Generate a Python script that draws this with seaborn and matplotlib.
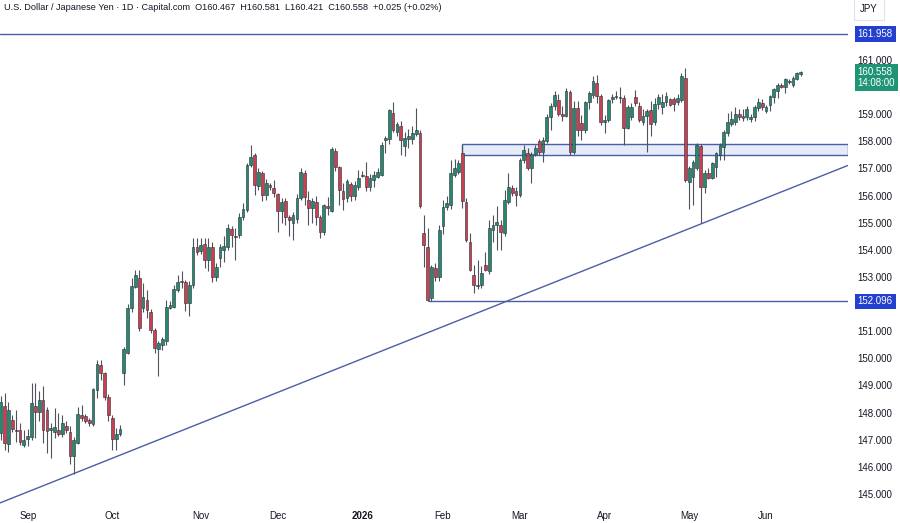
import matplotlib
matplotlib.use('Agg')
import matplotlib.pyplot as plt
import matplotlib.transforms as mtransforms
from matplotlib.patches import Rectangle
import numpy as np
import pandas as pd
import seaborn as sns

# ---- chart text ----
header = ('U.S. Dollar / Japanese Yen \u00b7 1D \u00b7 Capital.com  '
          'O160.467  H160.581  L160.421  C160.558  +0.025 (+0.02%)')
currency = 'JPY'
month_ticks = [7, 29, 52, 72, 94, 115, 135, 157, 179, 199]
month_labels = ['Sep', 'Oct', 'Nov', 'Dec', '2026', 'Feb', 'Mar', 'Apr', 'May', 'Jun']
price_ticks = [145, 146, 147, 148, 149, 150, 151, 153, 154, 155, 156, 157, 158, 159, 161]

# ---- daily candles ----
opens = [
    147.24, 148.24, 146.84, 147.73, 147.36, 147.36, 146.81, 147.02, 147.09, 148.24,
    148.03, 148.47, 148.10, 147.36, 147.29, 147.36, 147.21, 147.51, 147.30, 146.38,
    146.89, 147.91, 147.88, 147.73, 147.58, 148.83, 149.76, 149.45, 148.59, 147.79,
    147.02, 147.21, 149.46, 150.21, 151.85, 152.64, 152.95, 151.85, 152.15, 151.72,
    151.05, 150.34, 150.49, 150.62, 151.85, 151.88, 152.52, 152.85, 152.83, 152.05,
    152.70, 154.09, 153.97, 154.22, 153.63, 154.09, 153.01, 153.69, 153.99, 154.09,
    154.76, 154.50, 154.55, 155.20, 155.47, 157.13, 157.50, 156.35, 156.82, 156.02,
    156.39, 156.27, 156.06, 155.44, 155.81, 155.20, 154.98, 155.13, 155.90, 156.82,
    155.84, 155.53, 155.78, 155.22, 154.67, 155.60, 155.44, 157.65, 157.04, 156.15,
    155.90, 156.42, 155.99, 156.31, 156.73, 156.72, 156.33, 156.58, 156.70, 156.76,
    158.05, 158.08, 159.06, 158.36, 158.57, 157.83, 158.08, 158.08, 158.27, 158.32,
    154.61, 154.12, 152.21, 153.32, 153.01, 154.86, 155.59, 155.65, 156.76, 156.88,
    157.56, 155.78, 154.30, 153.07, 152.65, 152.70, 153.44, 153.20, 154.73, 154.92,
    154.92, 154.61, 155.78, 156.27, 156.15, 156.02, 157.31, 157.56, 157.01, 157.52,
    158.00, 157.62, 158.00, 158.91, 159.32, 159.53, 159.00, 158.95, 159.81, 157.60,
    159.24, 158.67, 158.42, 159.44, 159.71, 160.14, 159.68, 158.73, 158.79, 159.56,
    159.62, 159.60, 159.61, 158.50, 158.91, 159.65, 159.32, 158.70, 158.95, 159.16,
    158.73, 159.37, 159.28, 159.44, 159.56, 159.56, 159.44, 159.53, 160.35, 156.51,
    156.70, 157.03, 157.83, 156.33, 156.82, 156.64, 157.07, 157.50, 157.78, 158.30,
    158.64, 158.73, 159.00, 158.85, 158.89, 158.81, 158.89, 159.22, 159.43, 159.13,
    159.34, 159.62, 159.87, 160.06, 159.99, 160.18, 160.08, 160.29, 160.467,
]
highs = [
    148.60, 148.73, 148.40, 147.91, 148.10, 147.60, 147.36, 147.40, 149.08, 149.10,
    148.78, 148.96, 148.20, 147.60, 148.16, 148.00, 147.90, 147.70, 147.50, 147.10,
    148.20, 148.27, 147.95, 147.80, 148.90, 149.95, 149.95, 149.50, 148.70, 147.90,
    147.42, 147.54, 150.42, 152.00, 152.95, 153.26, 153.26, 152.77, 152.52, 151.80,
    151.10, 150.62, 150.78, 152.15, 152.10, 152.70, 153.07, 153.20, 152.90, 152.85,
    154.43, 154.45, 154.45, 154.43, 154.45, 154.30, 153.50, 154.20, 154.49, 154.95,
    154.88, 154.80, 155.35, 155.74, 157.20, 157.87, 157.56, 157.00, 156.90, 156.60,
    156.45, 156.58, 156.10, 155.90, 155.90, 155.30, 155.40, 156.05, 157.00, 156.95,
    156.15, 155.90, 156.00, 155.30, 155.70, 155.96, 157.80, 157.75, 157.10, 156.45,
    156.60, 156.50, 156.55, 156.94, 156.92, 157.25, 156.80, 156.90, 157.00, 157.98,
    158.20, 159.20, 159.46, 158.73, 158.75, 158.35, 158.45, 158.57, 159.22, 158.40,
    155.29, 154.80, 153.45, 153.50, 154.90, 155.85, 156.00, 157.31, 157.35, 157.30,
    157.85, 155.90, 154.61, 153.44, 153.63, 153.40, 153.93, 155.10, 155.30, 155.60,
    155.10, 156.21, 156.82, 156.40, 156.30, 157.40, 157.87, 157.75, 157.60, 157.85,
    158.10, 158.15, 159.00, 159.40, 159.85, 159.75, 159.30, 159.95, 159.90, 159.50,
    159.50, 158.97, 159.50, 159.85, 160.39, 160.45, 159.75, 158.97, 159.55, 159.75,
    159.85, 160.00, 159.70, 159.35, 159.40, 159.89, 159.45, 159.20, 159.20, 159.50,
    159.60, 159.75, 159.75, 159.80, 159.60, 159.65, 159.75, 160.50, 160.72, 157.10,
    157.30, 157.95, 157.90, 156.95, 157.00, 157.25, 157.60, 157.95, 158.40, 159.04,
    159.10, 159.28, 159.20, 159.20, 159.30, 159.00, 159.35, 159.59, 159.55, 159.35,
    159.72, 159.95, 160.15, 160.15, 160.35, 160.30, 160.40, 160.55, 160.581,
]
lows = [
    147.00, 146.62, 146.55, 147.30, 146.93, 146.80, 146.72, 146.75, 146.99, 147.05,
    147.70, 146.87, 146.50, 146.31, 147.05, 147.15, 147.10, 147.25, 146.10, 145.75,
    146.85, 147.70, 147.60, 147.50, 147.50, 148.55, 149.20, 148.47, 147.67, 146.62,
    146.62, 147.15, 149.00, 150.15, 151.72, 152.58, 151.00, 151.72, 151.48, 150.93,
    150.20, 149.35, 150.30, 150.49, 151.80, 151.85, 152.45, 152.60, 151.76, 151.55,
    152.60, 153.80, 153.85, 153.32, 153.20, 152.83, 152.85, 153.35, 153.56, 154.00,
    154.10, 153.63, 154.45, 155.10, 155.40, 157.07, 156.02, 156.20, 155.80, 155.85,
    156.22, 155.96, 154.67, 155.00, 154.90, 154.49, 154.36, 155.00, 155.85, 155.65,
    154.92, 155.00, 154.90, 154.43, 154.55, 155.29, 155.40, 156.90, 155.65, 155.47,
    155.75, 155.80, 155.85, 156.20, 156.67, 156.15, 156.15, 156.30, 156.65, 156.72,
    157.56, 157.90, 158.35, 158.20, 157.50, 157.45, 157.75, 157.90, 158.20, 155.55,
    153.38, 152.096, 152.10, 152.85, 152.85, 154.60, 155.45, 155.50, 156.70, 156.80,
    155.53, 154.30, 153.20, 152.40, 152.55, 152.60, 153.20, 153.10, 154.30, 154.00,
    154.00, 154.50, 155.70, 156.00, 155.60, 155.95, 157.20, 156.95, 156.45, 157.45,
    157.50, 157.25, 157.95, 158.42, 159.15, 158.95, 158.75, 158.90, 157.50, 157.55,
    158.20, 158.05, 158.30, 159.20, 159.60, 159.40, 158.60, 158.30, 158.70, 159.40,
    159.55, 159.40, 157.87, 158.45, 158.80, 159.30, 158.70, 158.60, 157.60, 158.20,
    158.60, 159.20, 159.00, 159.30, 159.30, 159.10, 159.35, 159.45, 156.51, 155.50,
    155.65, 156.95, 154.98, 156.09, 156.60, 156.60, 156.70, 157.31, 157.31, 158.20,
    158.55, 158.60, 158.80, 158.75, 158.80, 158.70, 158.75, 159.10, 159.15, 159.05,
    159.10, 159.40, 159.59, 159.98, 159.77, 160.10, 160.00, 160.25, 160.421,
]
closes = [
    148.37, 146.87, 148.10, 147.39, 147.32, 146.93, 146.99, 147.14, 148.34, 148.03,
    148.47, 147.36, 147.33, 147.42, 147.45, 147.21, 147.63, 147.36, 146.38, 146.99,
    147.95, 147.79, 147.67, 147.61, 148.86, 149.79, 149.45, 148.59, 147.91, 147.02,
    147.21, 147.39, 150.35, 151.85, 152.67, 153.07, 151.11, 152.25, 151.78, 151.05,
    150.37, 150.58, 150.70, 151.88, 151.97, 152.55, 152.83, 152.82, 152.05, 152.70,
    154.09, 153.93, 154.18, 153.63, 154.09, 153.01, 153.38, 154.09, 154.14, 154.80,
    154.55, 154.48, 155.22, 155.50, 157.13, 157.43, 156.39, 156.88, 156.02, 156.45,
    156.30, 156.11, 155.44, 155.78, 155.20, 155.10, 155.29, 155.90, 156.88, 155.96,
    155.53, 155.81, 155.22, 154.67, 155.65, 155.55, 157.71, 157.04, 156.20, 155.87,
    156.52, 155.99, 156.39, 156.64, 156.76, 156.33, 156.64, 156.76, 156.85, 157.87,
    158.11, 159.16, 158.42, 158.64, 158.05, 158.11, 158.20, 158.30, 158.42, 155.62,
    154.18, 152.15, 153.38, 153.01, 154.73, 155.57, 155.72, 156.82, 157.00, 157.21,
    155.81, 154.36, 153.26, 152.70, 152.70, 153.14, 153.26, 154.80, 154.92, 155.04,
    154.67, 155.84, 156.33, 156.09, 156.02, 157.31, 157.68, 157.01, 157.52, 157.74,
    157.60, 158.05, 158.91, 159.32, 159.71, 159.00, 158.95, 159.86, 157.60, 159.22,
    158.42, 158.42, 159.46, 159.77, 160.23, 159.68, 158.70, 158.79, 159.53, 159.65,
    159.66, 159.65, 158.50, 159.28, 159.26, 159.40, 158.79, 158.95, 159.10, 158.63,
    159.37, 159.65, 159.46, 159.68, 159.34, 159.37, 159.59, 160.42, 156.58, 157.03,
    157.23, 157.87, 156.33, 156.82, 156.64, 157.19, 157.56, 157.87, 158.36, 158.73,
    158.81, 159.00, 158.89, 158.93, 159.18, 158.89, 159.28, 159.46, 159.28, 159.28,
    159.67, 159.92, 160.08, 160.02, 160.29, 160.22, 160.33, 160.53, 160.558,
]

# ---- drawings on the chart ----
resistance = 161.958
support = 152.096
support_from = 111          # candle where the support line starts
zone_bottom, zone_top = 157.50, 157.90
zone_from = 120             # candle where the zone starts
trend_a = (19, 145.75)      # trendline anchors (candle, price)
trend_b = (182, 154.95)
last_price = 160.558
countdown = '14:08:00'

df = pd.DataFrame({'open': opens, 'high': highs, 'low': lows, 'close': closes})
df['i'] = np.arange(len(df))
df['up'] = df['close'] >= df['open']

UP = '#26896d'
DOWN = '#cc3f4e'
LINE = '#4a5ea8'
TXT = '#131722'

sns.set_theme(style='white')
plt.rcParams['font.family'] = ['Liberation Sans', 'DejaVu Sans']

fig = plt.figure(figsize=(9, 5.23), dpi=100)
ax = fig.add_axes([0, 18 / 523, 848 / 900, 505 / 523])
xmin, xmax = -0.2, 220.3
ax.set_xlim(xmin, xmax)
ax.set_ylim(144.59, 163.21)

# zone and levels
ax.add_patch(Rectangle((zone_from, zone_bottom), xmax - zone_from, zone_top - zone_bottom,
                       facecolor='#e6ebf8', edgecolor=LINE, linewidth=1.0, zorder=1))
ax.axhline(resistance, color=LINE, linewidth=1.0, zorder=1)
ax.hlines(support, support_from, xmax, color=LINE, linewidth=1.0, zorder=1)
ax.axline(trend_a, trend_b, color=LINE, linewidth=1.0, zorder=1)

# candles
ax.vlines(df['i'], df['low'], df['high'], color='#50535e', linewidth=0.8, zorder=2)
body_lo = df[['open', 'close']].min(axis=1)
body_h = (df['close'] - df['open']).abs().clip(lower=0.035)
ax.bar(df['i'], body_h, bottom=body_lo, width=0.72,
       color=np.where(df['up'], UP, DOWN), edgecolor='#2a2e39', linewidth=0.4, zorder=3)

for s in ax.spines.values():
    s.set_visible(False)

# price scale on the right
ax.yaxis.tick_right()
ax.set_yticks(price_ticks)
ax.set_yticklabels([f'{v:.3f}' for v in price_ticks])
ax.tick_params(axis='y', length=0, pad=7, labelsize=7, labelcolor=TXT)

# time scale
ax.set_xticks(month_ticks)
ax.set_xticklabels(month_labels)
ax.tick_params(axis='x', length=0, pad=4, labelsize=7, labelcolor=TXT)
ax.get_xticklabels()[month_labels.index('2026')].set_fontweight('bold')

# price tags on the scale
tr = mtransforms.blended_transform_factory(ax.transAxes, ax.transData)
for lvl in (resistance, support):
    ax.annotate(f'{lvl:.3f}', xy=(1, lvl), xycoords=tr, xytext=(7, 0),
                textcoords='offset points', va='center', ha='left', fontsize=7,
                color='white', annotation_clip=False,
                bbox=dict(boxstyle='square,pad=0.3', fc='#2440cf', ec='none'))
ax.annotate(f'{last_price:.3f}\n{countdown}', xy=(1, last_price), xycoords=tr,
            xytext=(7, -4), textcoords='offset points', va='center', ha='left',
            fontsize=7, color='white', linespacing=1.15, annotation_clip=False,
            bbox=dict(boxstyle='square,pad=0.3', fc='#1f9477', ec='none'))

fig.text(860 / 900, 1 - 9 / 523, currency, fontsize=7, color=TXT, va='center', ha='left',
         bbox=dict(boxstyle='square,pad=0.6', fc='white', ec='#e0e3eb', lw=0.8))
fig.text(4 / 900, 1 - 8 / 523, header, fontsize=6.6, color=TXT, va='center', ha='left')

fig.savefig('out.png', dpi=100)
